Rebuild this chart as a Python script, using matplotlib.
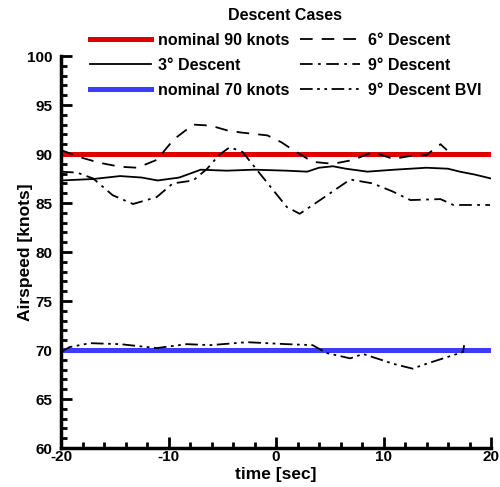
import numpy as np
import matplotlib
matplotlib.use('Agg')
import matplotlib.pyplot as plt

plt.rcParams['font.family'] = ['Liberation Sans', 'DejaVu Sans']
plt.rcParams['font.weight'] = 'bold'
plt.rcParams['axes.unicode_minus'] = False

# time axis limits and nominal speeds
t_lim = [-20, 20]
nominal_90 = 90
nominal_70 = 70

# 3 deg descent
t3 = [-20, -17, -14.5, -12.5, -11, -9, -7, -4.6, -2, 1, 2.9, 4, 5.3, 6.5, 8.5, 11, 14, 16, 17.1, 18.5, 20]
v3 = [87.3, 87.45, 87.75, 87.6, 87.3, 87.6, 88.4, 88.3, 88.4, 88.3, 88.2, 88.6, 88.75, 88.5, 88.2, 88.4, 88.6, 88.5, 88.2, 87.9, 87.5]

# 6 deg descent
t6 = [-20, -18, -16.4, -14.5, -12.9, -11.1, -9.5, -7.7, -6.1, -4.5, -3.3, -0.8, 0.5, 1.6, 3.4, 5.3, 7.2, 9.0, 10.9, 12.5, 14, 15.3, 15.9]
v6 = [90.4, 89.6, 89.1, 88.7, 88.6, 89.4, 91.5, 93.0, 92.9, 92.4, 92.2, 91.9, 91.2, 90.4, 89.2, 89.0, 89.4, 90.2, 89.5, 89.8, 89.9, 91.0, 90.4]

# 9 deg descent
t9 = [-20, -18.5, -17, -15.2, -13.3, -11.1, -9.6, -7.7, -6.4, -5.3, -4.3, -3.1, -1.5, 1.0, 2.2, 4.1, 6.9, 9.0, 10.8, 12.5, 15.3, 16.5, 18, 19.9]
v9 = [88.2, 88.1, 87.5, 85.8, 84.9, 85.6, 87.0, 87.3, 88.5, 89.9, 90.7, 90.2, 88.0, 84.6, 83.9, 85.3, 87.4, 87.0, 86.2, 85.3, 85.4, 84.8, 84.8, 84.8]

# 9 deg descent BVI
tb = [-20, -19.2, -17.3, -14.5, -11.1, -8.3, -6.1, -2.7, 1.0, 3.4, 4.7, 6.9, 8.1, 10.9, 12.7, 14.0, 17.4, 17.5]
vb = [69.8, 70.3, 70.7, 70.6, 70.2, 70.6, 70.5, 70.8, 70.6, 70.5, 69.7, 69.15, 69.6, 68.6, 68.1, 68.6, 69.8, 70.5]

fig = plt.figure(figsize=(5, 4.87), dpi=100)
ax = fig.add_axes([0.122, 0.080, 0.860, 0.805])

ax.plot(t_lim, [nominal_90, nominal_90], color='#dd0000', lw=3.6, label='nominal 90 knots')
ax.plot(t3, v3, color='black', lw=1.3, label='3° Descent')
ax.plot(t_lim, [nominal_70, nominal_70], color='#3c3cff', lw=3.6, label='nominal 70 knots')
ax.plot(t6, v6, color='black', lw=1.3, ls=(0, (7, 5)), label='6° Descent')
ax.plot(t9, v9, color='black', lw=1.3, ls=(0, (7, 3, 1.5, 3)), label='9° Descent')
ax.plot(tb, vb, color='black', lw=1.3, ls=(0, (7, 2.5, 1.5, 2.5, 1.5, 2.5)), label='9° Descent BVI')

ax.set_xlim(-20, 20)
ax.set_ylim(60, 100)
ax.set_xticks(np.arange(-20, 21, 10))
ax.set_xticks(np.arange(-20, 21, 2), minor=True)
ax.set_yticks(np.arange(60, 101, 5))
ax.set_yticks(np.arange(60, 101, 1), minor=True)
ax.tick_params(which='both', direction='in', width=2)
ax.tick_params(which='major', length=8, labelsize=11)
ax.tick_params(axis='y', which='major', pad=6)
ax.tick_params(axis='x', which='major', pad=1.5)
ax.tick_params(which='minor', length=4.5)
for s in ['top', 'right']:
    ax.spines[s].set_visible(False)
for s in ['left', 'bottom']:
    ax.spines[s].set_linewidth(2.5)
for lab in ax.get_xticklabels() + ax.get_yticklabels():
    lab.set_fontweight('bold')

ax.set_xlabel('time [sec]', fontsize=12.5, fontweight='bold', labelpad=2)
ax.set_ylabel('Airspeed [knots]', fontsize=12.5, fontweight='bold', labelpad=-4)

leg = fig.legend(loc='upper center', bbox_to_anchor=(0.571, 1.0), ncol=2, frameon=False,
                 title='Descent Cases', fontsize=11.5, title_fontsize=11.5,
                 handlelength=3.8, handletextpad=0.45, columnspacing=0.65,
                 labelspacing=0.62, borderaxespad=0.1)
leg.get_title().set_fontweight('bold')
for txt in leg.get_texts():
    txt.set_fontweight('bold')

fig.savefig('out.png', dpi=100)
